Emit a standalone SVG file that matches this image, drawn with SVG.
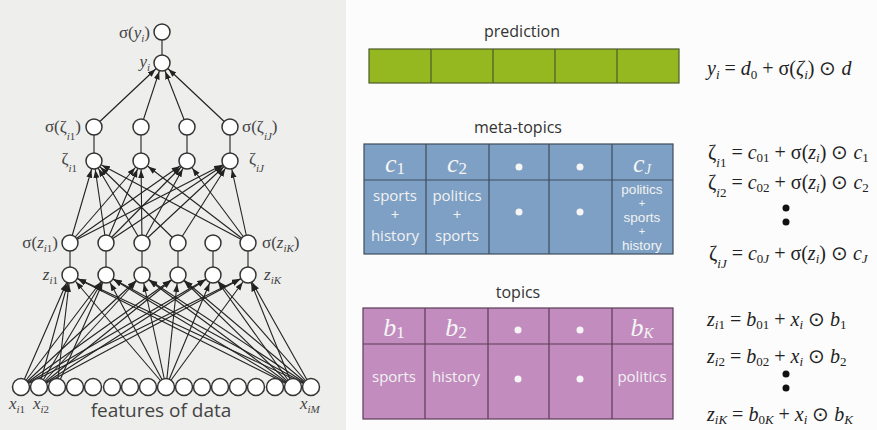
<svg xmlns="http://www.w3.org/2000/svg" width="877" height="430" viewBox="0 0 877 430">
<defs>
<marker id="ar" markerUnits="userSpaceOnUse" markerWidth="20" markerHeight="10" refX="17" refY="3" orient="auto"><path d="M0,0 L8,3 L0,6 z" fill="#222"/></marker>
<style>
.n{fill:#fff;stroke:#333;stroke-width:1.5}
.e{stroke:#222;stroke-width:1.1;fill:none}
.a{marker-end:url(#ar)}
.lb{font-family:"Liberation Serif",serif;font-size:17px;fill:#444}
.it{font-style:italic}
.sb{font-size:11px}
.ttl{font-family:"Open Sans",sans-serif;font-size:16px;fill:#333;text-anchor:middle}
.cell{font-family:"Open Sans",sans-serif;font-size:15px;fill:#f2f2f2;text-anchor:middle}
.stk{font-family:"Liberation Sans",sans-serif;fill:#f2f2f2;text-anchor:middle}
.hd{font-family:"Liberation Serif",serif;font-size:26px;fill:#f5f5f5;font-style:italic;text-anchor:middle}
.eq{font-family:"Liberation Serif",serif;font-size:20px;fill:#222}
.s{font-size:13px}
</style>
</defs>
<rect x="0" y="0" width="877" height="430" fill="#fcfcfc"/>
<rect x="0" y="0" width="346" height="430" fill="#eeeeec"/>

<g id="connectors">
<line class="e" x1="162" y1="32" x2="162" y2="63"/>
<line class="e a" x1="94" y1="127" x2="162" y2="63"/>
<line class="e a" x1="141" y1="127" x2="162" y2="63"/>
<line class="e a" x1="187" y1="127" x2="162" y2="63"/>
<line class="e a" x1="230" y1="127" x2="162" y2="63"/>
<line class="e" x1="94" y1="127" x2="94" y2="161"/>
<line class="e" x1="141" y1="127" x2="141" y2="161"/>
<line class="e" x1="187" y1="127" x2="187" y2="161"/>
<line class="e" x1="230" y1="127" x2="230" y2="161"/>
<line class="e a" x1="70" y1="243" x2="94" y2="161"/>
<line class="e a" x1="70" y1="243" x2="141" y2="161"/>
<line class="e a" x1="70" y1="243" x2="187" y2="161"/>
<line class="e a" x1="70" y1="243" x2="230" y2="161"/>
<line class="e a" x1="106" y1="243" x2="94" y2="161"/>
<line class="e a" x1="106" y1="243" x2="141" y2="161"/>
<line class="e a" x1="106" y1="243" x2="187" y2="161"/>
<line class="e a" x1="106" y1="243" x2="230" y2="161"/>
<line class="e a" x1="142" y1="243" x2="94" y2="161"/>
<line class="e a" x1="142" y1="243" x2="141" y2="161"/>
<line class="e a" x1="142" y1="243" x2="187" y2="161"/>
<line class="e a" x1="142" y1="243" x2="230" y2="161"/>
<line class="e a" x1="178" y1="243" x2="94" y2="161"/>
<line class="e a" x1="178" y1="243" x2="230" y2="161"/>
<line class="e a" x1="248" y1="243" x2="94" y2="161"/>
<line class="e a" x1="248" y1="243" x2="141" y2="161"/>
<line class="e a" x1="248" y1="243" x2="187" y2="161"/>
<line class="e a" x1="248" y1="243" x2="230" y2="161"/>
<line class="e" x1="70" y1="243" x2="70" y2="275"/>
<line class="e" x1="106" y1="243" x2="106" y2="275"/>
<line class="e" x1="142" y1="243" x2="142" y2="275"/>
<line class="e" x1="178" y1="243" x2="178" y2="275"/>
<line class="e" x1="213" y1="243" x2="213" y2="275"/>
<line class="e" x1="248" y1="243" x2="248" y2="275"/>
<line class="e a" x1="21" y1="387" x2="70" y2="275"/>
<line class="e a" x1="21" y1="387" x2="106" y2="275"/>
<line class="e a" x1="21" y1="387" x2="142" y2="275"/>
<line class="e a" x1="21" y1="387" x2="178" y2="275"/>
<line class="e a" x1="21" y1="387" x2="213" y2="275"/>
<line class="e a" x1="21" y1="387" x2="248" y2="275"/>
<line class="e a" x1="39" y1="387" x2="70" y2="275"/>
<line class="e a" x1="39" y1="387" x2="106" y2="275"/>
<line class="e a" x1="39" y1="387" x2="142" y2="275"/>
<line class="e a" x1="39" y1="387" x2="178" y2="275"/>
<line class="e a" x1="39" y1="387" x2="213" y2="275"/>
<line class="e a" x1="39" y1="387" x2="248" y2="275"/>
<line class="e a" x1="57" y1="387" x2="70" y2="275"/>
<line class="e a" x1="57" y1="387" x2="106" y2="275"/>
<line class="e a" x1="166" y1="387" x2="70" y2="275"/>
<line class="e a" x1="166" y1="387" x2="106" y2="275"/>
<line class="e a" x1="166" y1="387" x2="142" y2="275"/>
<line class="e a" x1="166" y1="387" x2="178" y2="275"/>
<line class="e a" x1="166" y1="387" x2="213" y2="275"/>
<line class="e a" x1="166" y1="387" x2="248" y2="275"/>
<line class="e a" x1="293" y1="387" x2="70" y2="275"/>
<line class="e a" x1="293" y1="387" x2="106" y2="275"/>
<line class="e a" x1="293" y1="387" x2="142" y2="275"/>
<line class="e a" x1="293" y1="387" x2="178" y2="275"/>
<line class="e a" x1="293" y1="387" x2="213" y2="275"/>
<line class="e a" x1="293" y1="387" x2="248" y2="275"/>
<line class="e a" x1="311" y1="387" x2="70" y2="275"/>
<line class="e a" x1="311" y1="387" x2="106" y2="275"/>
<line class="e a" x1="311" y1="387" x2="142" y2="275"/>
<line class="e a" x1="311" y1="387" x2="178" y2="275"/>
<line class="e a" x1="311" y1="387" x2="213" y2="275"/>
<line class="e a" x1="311" y1="387" x2="248" y2="275"/>
</g>

<g id="sigma-y"><circle class="n" cx="162" cy="32" r="8"/><text class="lb" x="150" y="38" text-anchor="end">σ(<tspan class="it">y</tspan><tspan class="sb it" dy="4">i</tspan><tspan dy="-4">)</tspan></text></g>
<g id="y"><circle class="n" cx="162" cy="63" r="8"/><text class="lb" x="150" y="67" text-anchor="end"><tspan class="it">y</tspan><tspan class="sb it" dy="4">i</tspan></text></g>

<g id="sigma-zeta-1"><circle class="n" cx="94" cy="127" r="8"/><text class="lb" x="81" y="132" text-anchor="end">σ(ζ<tspan class="sb it" dy="8">i</tspan><tspan class="sb" dy="0">1</tspan><tspan dy="-8">)</tspan></text></g>
<g id="sigma-zeta-2"><circle class="n" cx="141" cy="127" r="8"/></g>
<g id="sigma-zeta-3"><circle class="n" cx="187" cy="127" r="8"/></g>
<g id="sigma-zeta-J"><circle class="n" cx="230" cy="127" r="8"/><text class="lb" x="242" y="132">σ(ζ<tspan class="sb it" dy="8">iJ</tspan><tspan dy="-8">)</tspan></text></g>

<g id="zeta-1"><circle class="n" cx="94" cy="161" r="8"/><text class="lb" x="77" y="164" text-anchor="end">ζ<tspan class="sb it" dy="8">i</tspan><tspan class="sb">1</tspan></text></g>
<g id="zeta-2"><circle class="n" cx="141" cy="161" r="8"/></g>
<g id="zeta-3"><circle class="n" cx="187" cy="161" r="8"/></g>
<g id="zeta-J"><circle class="n" cx="230" cy="161" r="8"/><text class="lb" x="249" y="164">ζ<tspan class="sb it" dy="8">iJ</tspan></text></g>

<g id="sigma-z-1"><circle class="n" cx="70" cy="243" r="8"/><text class="lb" x="58" y="248" text-anchor="end">σ(<tspan class="it">z</tspan><tspan class="sb it" dy="4">i</tspan><tspan class="sb">1</tspan><tspan dy="-4">)</tspan></text></g>
<g id="sigma-z-2"><circle class="n" cx="106" cy="243" r="8"/></g>
<g id="sigma-z-3"><circle class="n" cx="142" cy="243" r="8"/></g>
<g id="sigma-z-4"><circle class="n" cx="178" cy="243" r="8"/></g>
<g id="sigma-z-5"><circle class="n" cx="213" cy="243" r="8"/></g>
<g id="sigma-z-K"><circle class="n" cx="248" cy="243" r="8"/><text class="lb" x="262" y="248">σ(<tspan class="it">z</tspan><tspan class="sb it" dy="4">iK</tspan><tspan dy="-4">)</tspan></text></g>

<g id="z-1"><circle class="n" cx="70" cy="275" r="8"/><text class="lb" x="58" y="280" text-anchor="end"><tspan class="it">z</tspan><tspan class="sb it" dy="4">i</tspan><tspan class="sb">1</tspan></text></g>
<g id="z-2"><circle class="n" cx="106" cy="275" r="8"/></g>
<g id="z-3"><circle class="n" cx="142" cy="275" r="8"/></g>
<g id="z-4"><circle class="n" cx="178" cy="275" r="8"/></g>
<g id="z-5"><circle class="n" cx="213" cy="275" r="8"/></g>
<g id="z-K"><circle class="n" cx="248" cy="275" r="8"/><text class="lb" x="264" y="280"><tspan class="it">z</tspan><tspan class="sb it" dy="4">iK</tspan></text></g>

<g id="x-1"><circle class="n" cx="21" cy="387" r="8.5"/><text class="lb" x="9" y="409"><tspan class="it">x</tspan><tspan class="sb it" dy="4">i</tspan><tspan class="sb">1</tspan></text></g>
<g id="x-2"><circle class="n" cx="39" cy="387" r="8.5"/><text class="lb" x="33" y="409"><tspan class="it">x</tspan><tspan class="sb it" dy="4">i</tspan><tspan class="sb">2</tspan></text></g>
<g id="x-3"><circle class="n" cx="57" cy="387" r="8.5"/></g>
<g id="x-4"><circle class="n" cx="75" cy="387" r="8.5"/></g>
<g id="x-5"><circle class="n" cx="93" cy="387" r="8.5"/></g>
<g id="x-6"><circle class="n" cx="112" cy="387" r="8.5"/></g>
<g id="x-7"><circle class="n" cx="130" cy="387" r="8.5"/></g>
<g id="x-8"><circle class="n" cx="148" cy="387" r="8.5"/></g>
<g id="x-9"><circle class="n" cx="166" cy="387" r="8.5"/></g>
<g id="x-10"><circle class="n" cx="184" cy="387" r="8.5"/></g>
<g id="x-11"><circle class="n" cx="202" cy="387" r="8.5"/></g>
<g id="x-12"><circle class="n" cx="220" cy="387" r="8.5"/></g>
<g id="x-13"><circle class="n" cx="238" cy="387" r="8.5"/></g>
<g id="x-14"><circle class="n" cx="256" cy="387" r="8.5"/></g>
<g id="x-15"><circle class="n" cx="275" cy="387" r="8.5"/></g>
<g id="x-16"><circle class="n" cx="293" cy="387" r="8.5"/></g>
<g id="x-M"><circle class="n" cx="311" cy="387" r="8.5"/><text class="lb" x="300" y="409"><tspan class="it">x</tspan><tspan class="sb it" dy="4">iM</tspan></text></g>
<text x="161" y="417" font-family="Open Sans, sans-serif" font-size="19" fill="#444" text-anchor="middle">features of data</text>

<g id="prediction">
<text class="ttl" x="522" y="37">prediction</text>
<rect x="369" y="49" width="310" height="34" fill="#95b820" stroke="#4d5a2a" stroke-width="1.2"/>
<path d="M431,49V83M493,49V83M555,49V83M617,49V83" stroke="#4d5a2a" stroke-width="1.2"/>
</g>

<g id="meta-topics">
<text class="ttl" x="518" y="133">meta-topics</text>
<rect x="364" y="144" width="309" height="110" fill="#7ea0c4" stroke="#3e4c5c" stroke-width="1.2"/>
<path d="M364,180H673M426,144V254M489,144V254M549,144V254M612,144V254" stroke="#3e4c5c" stroke-width="1.2"/>
<text class="hd" x="395" y="172">c<tspan font-style="normal" font-size="17" dy="2">1</tspan></text>
<text class="hd" x="457" y="172">c<tspan font-style="normal" font-size="17" dy="2">2</tspan></text>
<text class="hd" x="642" y="172">c<tspan font-size="14" dy="2">J</tspan></text>
<circle cx="519" cy="167" r="3.5" fill="#f5f5f5"/><circle cx="580" cy="167" r="3.5" fill="#f5f5f5"/>
<circle cx="519" cy="212" r="3.5" fill="#f5f5f5"/><circle cx="580" cy="212" r="3.5" fill="#f5f5f5"/>
<text class="cell" x="395" y="201">sports</text><text class="cell" x="395" y="220">+</text><text class="cell" x="395" y="241">history</text>
<text class="cell" x="457" y="201">politics</text><text class="cell" x="457" y="220">+</text><text class="cell" x="457" y="241">sports</text>
<text class="stk" x="642" y="194.3" font-size="13.5">politics</text>
<text class="stk" x="642" y="207.3" font-size="11">+</text>
<text class="stk" x="642" y="221.9" font-size="13.5">sports</text>
<text class="stk" x="642" y="234.9" font-size="11">+</text>
<text class="stk" x="642" y="249.5" font-size="13.5">history</text>
</g>

<g id="topics">
<text class="ttl" x="518" y="298">topics</text>
<rect x="363" y="308" width="310" height="111" fill="#c28cbf" stroke="#5a3c58" stroke-width="1.2"/>
<path d="M363,344H673M425,308V419M488,308V419M549,308V419M612,308V419" stroke="#5a3c58" stroke-width="1.2"/>
<text class="hd" x="394" y="336">b<tspan font-style="normal" font-size="17" dy="2">1</tspan></text>
<text class="hd" x="456" y="336">b<tspan font-style="normal" font-size="17" dy="2">2</tspan></text>
<text class="hd" x="642" y="336">b<tspan font-size="15" dy="2">K</tspan></text>
<circle cx="518" cy="330" r="3.5" fill="#f5f5f5"/><circle cx="580" cy="330" r="3.5" fill="#f5f5f5"/>
<circle cx="518" cy="379" r="3.5" fill="#f5f5f5"/><circle cx="580" cy="379" r="3.5" fill="#f5f5f5"/>
<text class="cell" x="394" y="382">sports</text>
<text class="cell" x="456" y="382">history</text>
<text class="cell" x="642" y="382">politics</text>
</g>

<g id="equations">
<text class="eq" x="707" y="75"><tspan class="it">y</tspan><tspan class="it s" dy="4">i</tspan><tspan dy="-4"> = </tspan><tspan class="it">d</tspan><tspan class="s" dy="4">0</tspan><tspan dy="-4"> + σ(</tspan><tspan class="it">ζ</tspan><tspan class="it s" dy="4">i</tspan><tspan dy="-4">) ⊙ </tspan><tspan class="it">d</tspan></text>
<text class="eq" x="708" y="159">ζ<tspan class="it s" dy="8">i</tspan><tspan class="s">1</tspan><tspan dy="-8"> = </tspan><tspan class="it">c</tspan><tspan class="s" dy="3">01</tspan><tspan dy="-3"> + σ(</tspan><tspan class="it">z</tspan><tspan class="it s" dy="3">i</tspan><tspan dy="-3">) ⊙ </tspan><tspan class="it">c</tspan><tspan class="s" dy="3">1</tspan></text>
<text class="eq" x="708" y="189">ζ<tspan class="it s" dy="8">i</tspan><tspan class="s">2</tspan><tspan dy="-8"> = </tspan><tspan class="it">c</tspan><tspan class="s" dy="3">02</tspan><tspan dy="-3"> + σ(</tspan><tspan class="it">z</tspan><tspan class="it s" dy="3">i</tspan><tspan dy="-3">) ⊙ </tspan><tspan class="it">c</tspan><tspan class="s" dy="3">2</tspan></text>
<circle cx="786" cy="208" r="3.5" fill="#111"/><circle cx="786" cy="222" r="3.5" fill="#111"/>
<text class="eq" x="709" y="260">ζ<tspan class="it s" dy="8">iJ</tspan><tspan dy="-8"> = </tspan><tspan class="it">c</tspan><tspan class="s" dy="3">0</tspan><tspan class="it s">J</tspan><tspan dy="-3"> + σ(</tspan><tspan class="it">z</tspan><tspan class="it s" dy="3">i</tspan><tspan dy="-3">) ⊙ </tspan><tspan class="it">c</tspan><tspan class="it s" dy="3">J</tspan></text>
<text class="eq" x="707" y="326"><tspan class="it">z</tspan><tspan class="it s" dy="3">i</tspan><tspan class="s">1</tspan><tspan dy="-3"> = </tspan><tspan class="it">b</tspan><tspan class="s" dy="3">01</tspan><tspan dy="-3"> + </tspan><tspan class="it">x</tspan><tspan class="it s" dy="3">i</tspan><tspan dy="-3"> ⊙ </tspan><tspan class="it">b</tspan><tspan class="s" dy="3">1</tspan></text>
<text class="eq" x="707" y="363"><tspan class="it">z</tspan><tspan class="it s" dy="3">i</tspan><tspan class="s">2</tspan><tspan dy="-3"> = </tspan><tspan class="it">b</tspan><tspan class="s" dy="3">02</tspan><tspan dy="-3"> + </tspan><tspan class="it">x</tspan><tspan class="it s" dy="3">i</tspan><tspan dy="-3"> ⊙ </tspan><tspan class="it">b</tspan><tspan class="s" dy="3">2</tspan></text>
<circle cx="786" cy="374" r="3.5" fill="#111"/><circle cx="786" cy="388" r="3.5" fill="#111"/>
<text class="eq" x="707" y="421"><tspan class="it">z</tspan><tspan class="it s" dy="3">iK</tspan><tspan dy="-3"> = </tspan><tspan class="it">b</tspan><tspan class="s" dy="3">0</tspan><tspan class="it s">K</tspan><tspan dy="-3"> + </tspan><tspan class="it">x</tspan><tspan class="it s" dy="3">i</tspan><tspan dy="-3"> ⊙ </tspan><tspan class="it">b</tspan><tspan class="it s" dy="3">K</tspan></text>
</g>
</svg>
